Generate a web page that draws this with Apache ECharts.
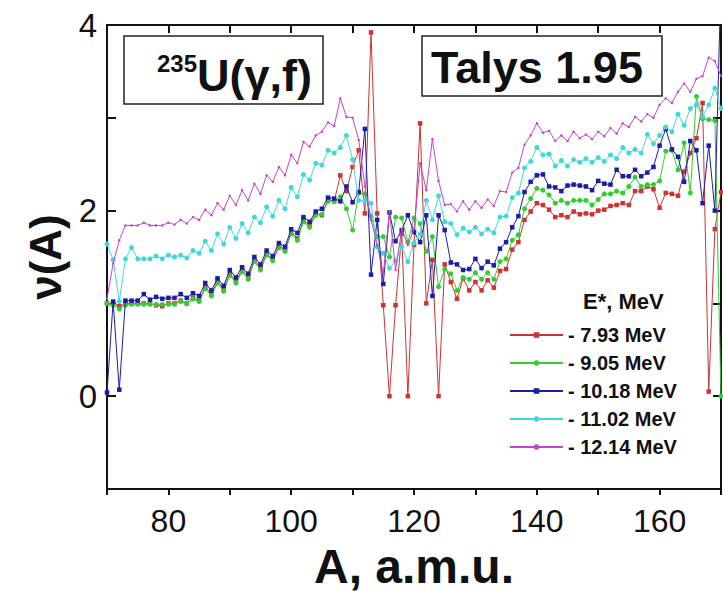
<!DOCTYPE html>
<html>
<head>
<meta charset="utf-8">
<script src="https://cdn.jsdelivr.net/npm/echarts@6/dist/echarts.min.js"></script>
<style>
html,body{margin:0;padding:0;background:#fff;}
#c{width:723px;height:591px;}
</style>
</head>
<body>
<div id="c"></div>
<script>
// ---------- data ----------
var massA = [70,71,72,73,74,75,76,77,78,79,80,81,82,83,84,85,86,87,88,89,90,91,92,93,94,95,96,97,98,99,
100,101,102,103,104,105,106,107,108,109,110,111,112,113,114,115,116,117,118,119,120,121,122,123,124,125,126,127,128,129,
130,131,132,133,134,135,136,137,138,139,140,141,142,143,144,145,146,147,148,149,150,151,152,153,154,155,156,157,158,159,
160,161,162,163,164,165,166,167,168,169,170];

var nu793 = [1.00,1.00,0.97,1.00,1.00,1.00,1.00,1.00,0.98,0.97,
1.00,1.00,1.03,1.00,1.06,1.03,1.18,1.10,1.24,1.15,
1.32,1.24,1.36,1.28,1.47,1.38,1.54,1.47,1.62,1.58,
1.77,1.70,1.90,1.84,1.97,1.95,2.12,2.10,2.38,2.21,
2.47,2.65,1.97,3.92,1.97,0.98,0.00,0.98,1.75,0.00,
1.63,2.94,1.00,1.47,0.00,1.42,1.23,1.05,1.27,1.14,
1.23,1.14,1.25,1.17,1.35,1.37,1.58,1.66,1.90,1.99,
2.08,2.06,2.01,1.93,1.95,1.93,1.99,1.96,1.97,1.96,
2.00,2.01,2.05,2.06,2.08,2.06,2.21,2.21,2.26,2.23,
2.03,2.19,2.18,2.16,2.42,2.62,2.78,3.16,0.05,1.80,
2.20];

var nu905 = [1.00,0.98,0.94,0.98,0.99,0.99,0.99,0.99,0.99,0.99,
0.99,0.99,1.02,1.00,1.05,1.02,1.16,1.08,1.22,1.13,
1.30,1.22,1.34,1.26,1.45,1.36,1.52,1.46,1.60,1.56,
1.75,1.68,1.88,1.82,1.95,1.96,2.10,2.10,2.15,2.02,
1.79,2.19,2.18,1.94,1.72,1.72,1.50,1.93,1.92,1.66,
1.92,1.86,1.56,1.72,1.18,1.37,1.32,1.14,1.28,1.26,
1.33,1.26,1.33,1.26,1.45,1.48,1.68,1.74,2.02,2.13,
2.24,2.22,2.17,2.08,2.11,2.08,2.11,2.11,2.11,2.06,
2.12,2.18,2.18,2.21,2.19,2.26,2.36,2.26,2.28,2.28,
2.32,2.64,2.65,2.44,2.73,2.19,3.23,2.99,2.98,2.97,
0.00];

var nu1018 = [0.04,1.02,0.07,1.03,1.03,1.03,1.10,1.04,1.07,1.05,
1.06,1.06,1.10,1.06,1.11,1.08,1.22,1.14,1.27,1.19,
1.36,1.28,1.39,1.32,1.50,1.42,1.57,1.51,1.65,1.61,
1.80,1.76,1.93,1.88,1.99,2.02,2.14,2.13,2.10,2.26,
2.09,2.20,2.88,1.31,1.90,1.21,1.98,1.67,1.79,1.95,
1.77,1.66,1.95,1.08,1.95,1.79,1.44,1.42,1.36,1.37,
1.48,1.38,1.45,1.41,1.59,1.66,1.82,1.94,2.20,2.31,
2.38,2.39,2.26,2.25,2.21,2.27,2.28,2.27,2.26,2.22,
2.32,2.29,2.28,2.44,2.37,2.37,2.44,2.37,2.41,2.47,
2.70,2.88,2.66,2.58,2.31,2.75,2.65,2.08,2.70,2.00,
4.50];

var nu1102 = [1.64,1.47,1.02,1.48,1.60,1.48,1.48,1.48,1.51,1.48,
1.52,1.50,1.52,1.49,1.57,1.54,1.67,1.57,1.75,1.64,
1.82,1.70,1.86,1.76,1.93,1.87,2.04,1.94,2.11,2.02,
2.25,2.15,2.39,2.33,2.51,2.49,2.65,2.62,2.68,2.81,
2.55,2.11,2.11,2.08,1.61,1.54,1.38,1.46,1.61,1.45,
1.65,1.75,2.11,1.90,2.16,1.88,1.86,1.74,1.81,1.77,
1.82,1.75,1.80,1.76,1.93,1.94,2.14,2.19,2.46,2.53,
2.68,2.60,2.61,2.48,2.54,2.48,2.55,2.52,2.56,2.52,
2.57,2.53,2.60,2.56,2.68,2.62,2.66,2.62,2.82,2.72,
2.81,2.90,2.85,3.04,2.92,3.10,3.14,3.01,3.14,3.32,
3.10];

var nu1214 = [1.05,1.43,1.68,1.84,1.84,1.84,1.87,1.84,1.84,1.84,
1.87,1.85,1.90,1.86,1.93,1.90,2.01,1.95,2.08,2.01,
2.16,2.06,2.22,2.11,2.29,2.18,2.38,2.31,2.47,2.38,
2.60,2.51,2.74,2.69,2.81,2.85,2.95,2.91,3.21,3.01,
3.00,2.76,2.26,1.90,1.63,1.32,1.99,1.36,1.80,1.63,
1.80,2.51,2.22,2.77,2.32,2.06,2.07,1.99,2.10,2.01,
2.10,2.03,2.12,2.05,2.21,2.20,2.41,2.46,2.71,2.81,
2.94,2.84,2.86,2.75,2.81,2.75,2.85,2.78,2.82,2.77,
2.85,2.80,2.89,2.83,2.94,2.90,3.01,2.96,3.04,3.00,
3.14,3.21,3.16,3.28,3.37,3.28,3.42,3.45,3.65,3.61,
3.45];

var seriesNames = ['- 7.93 MeV','- 9.05 MeV','- 10.18 MeV','- 11.02 MeV','- 12.14 MeV'];
var xTickLabels = [80,100,120,140,160];
var yTickLabels = [0,2,4];

// ---------- chart ----------
function pairs(ys){ return massA.map(function(a,i){ return [a, ys[i]]; }); }

var colors = ['#cc3333','#33cc33','#1c1ca6','#3fd8d8','#bf47c9'];
var symbols = ['rect','circle','rect','circle','circle'];
var sizes = [4.5,5,4.5,5,2.5];
var values = [nu793, nu905, nu1018, nu1102, nu1214];

var FONT = '"Liberation Sans", Arial, sans-serif';

var series = values.map(function(v,i){
  return {
    name: seriesNames[i],
    type: 'line',
    xAxisIndex: 0, yAxisIndex: 0,
    data: pairs(v),
    symbol: symbols[i],
    symbolSize: sizes[i],
    showSymbol: true,
    lineStyle: {color: colors[i], width: 1},
    itemStyle: {color: colors[i]},
    emphasis: {disabled: true},
    clip: true,
    z: 2 + i
  };
});

var axisLineStyle = {color:'#111', width:2};

var option = {
  backgroundColor: '#ffffff',
  animation: false,
  grid: {left:107, right:2, top:25, bottom:102, containLabel:false, outerBoundsMode:'none'},
  xAxis: [{
    type:'value', min:70, max:170, interval:10, position:'bottom',
    axisLine:{show:true, onZero:false, lineStyle:axisLineStyle},
    axisTick:{show:true, inside:false, length:6, lineStyle:{color:'#111', width:2}},
    splitLine:{show:false},
    axisLabel:{
      margin:16, fontSize:32, fontFamily:FONT, color:'#111',
      formatter:function(v){ return xTickLabels.indexOf(v) >= 0 ? String(v) : ''; }
    },
    name:'A, a.m.u.', nameLocation:'middle', nameGap:53,
    nameTextStyle:{fontSize:48, lineHeight:48, fontWeight:'bold', fontFamily:FONT, color:'#111'}
  },{
    type:'value', min:70, max:170, interval:10, position:'top',
    axisLine:{show:true, onZero:false, lineStyle:axisLineStyle},
    axisTick:{show:true, inside:true, length:8, lineStyle:{color:'#111', width:2}},
    axisLabel:{show:false}, splitLine:{show:false}
  }],
  yAxis: [{
    type:'value', min:-1, max:4, interval:1, position:'left',
    axisLine:{show:true, onZero:false, lineStyle:axisLineStyle},
    axisTick:{show:true, inside:true, length:9, lineStyle:{color:'#111', width:2}},
    splitLine:{show:false},
    axisLabel:{
      margin:10, fontSize:33, fontFamily:FONT, color:'#111',
      formatter:function(v){ return yTickLabels.indexOf(v) >= 0 ? String(v) : ''; }
    },
    name:'ν(A)', nameLocation:'middle', nameGap:38, nameRotate:90,
    nameTextStyle:{fontSize:44, fontWeight:'bold', fontFamily:FONT, color:'#111'}
  },{
    type:'value', min:-1, max:4, interval:1, position:'right',
    axisLine:{show:true, onZero:false, lineStyle:axisLineStyle},
    axisTick:{show:true, inside:true, length:8, lineStyle:{color:'#111', width:2}},
    axisLabel:{show:false}, splitLine:{show:false}
  }],
  legend: {
    orient:'vertical', left:504, top:320,
    itemWidth:53, itemHeight:7, itemGap:8,
    data: seriesNames,
    textStyle:{fontSize:20, fontWeight:'bold', fontFamily:FONT, color:'#111', lineHeight:20},
    selectedMode:false
  },
  graphic: [
    {type:'rect', shape:{x:124, y:36, width:199, height:68},
     style:{fill:'#fff', stroke:'#222', lineWidth:1.5}, z:10},
    {type:'text', x:157, y:48, z:11,
     style:{
       text:'{s|235}{m|U(γ,f)}',
       rich:{
         s:{fontSize:24, fontWeight:'bold', fontFamily:FONT, fill:'#111', verticalAlign:'top', lineHeight:50, padding:[3,0,0,0]},
         m:{fontSize:45, fontWeight:'bold', fontFamily:FONT, fill:'#111', verticalAlign:'bottom', lineHeight:50}
       },
       fill:'#111'
     }},
    {type:'rect', shape:{x:422, y:36, width:240, height:60},
     style:{fill:'#fff', stroke:'#222', lineWidth:1.5}, z:10},
    {type:'text', x:537, y:67, z:11,
     style:{text:'Talys 1.95', font:'bold 45px "Liberation Sans", Arial, sans-serif',
            fill:'#111', textAlign:'center', textVerticalAlign:'middle', align:'center', verticalAlign:'middle'}},
    {type:'text', x:583, y:301, z:11,
     style:{text:'E*, MeV', font:'bold 22px "Liberation Sans", Arial, sans-serif',
            fill:'#111', textAlign:'left', textVerticalAlign:'middle', align:'left', verticalAlign:'middle'}}
  ],
  series: series
};

var chart = echarts.init(document.getElementById('c'), null, {renderer:'svg'});
chart.setOption(option);
</script>
</body>
</html>
